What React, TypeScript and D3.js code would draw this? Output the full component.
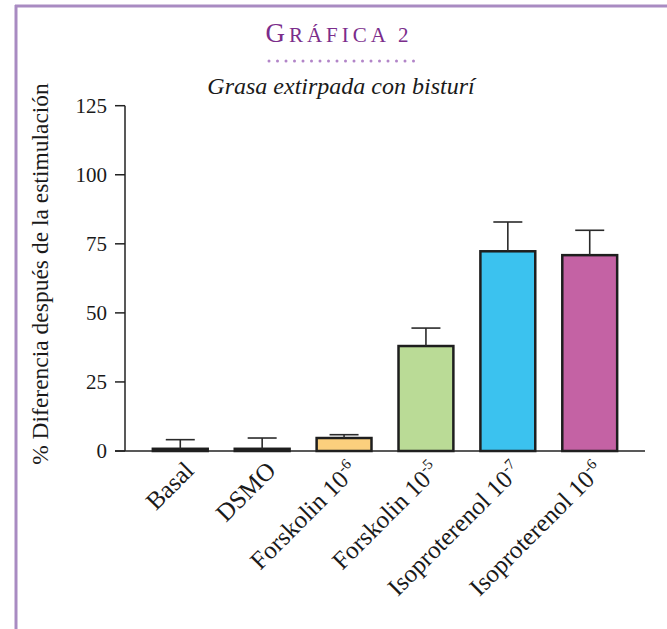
import { useEffect, useRef } from "react"
import * as d3 from "d3"

const categories = ["Basal", "DSMO", "Forskolin 10", "Forskolin 10", "Isoproterenol 10", "Isoproterenol 10"]
const exponents = ["", "", "-6", "-5", "-7", "-6"]
const means = [0.8, 0.8, 4.7, 38, 72.3, 70.9]
const errors = [3.3, 3.9, 1.2, 6.5, 10.6, 9]
const barColors = ["#1e1e1e", "#1e1e1e", "#fbcf7d", "#badb96", "#3bc2ef", "#c462a4"]
const yTicks = [0, 25, 50, 75, 100, 125]

const WIDTH = 667
const HEIGHT = 629
const SERIF = "'Liberation Serif', 'Times New Roman', serif"

export default function App() {
  const svgRef = useRef<SVGSVGElement>(null)

  useEffect(() => {
    if (!svgRef.current) return
    const svg = d3.select(svgRef.current)
    svg.selectAll("*").remove()

    // frame
    svg.append("line").attr("x1", 15).attr("x2", WIDTH).attr("y1", 6).attr("y2", 6)
      .attr("stroke", "#a98bc2").attr("stroke-width", 3)
    svg.append("line").attr("x1", 16).attr("x2", 16).attr("y1", 5).attr("y2", HEIGHT)
      .attr("stroke", "#a98bc2").attr("stroke-width", 3)

    // titles (small caps done by hand)
    const title = svg.append("text").attr("x", 339).attr("y", 42).attr("text-anchor", "middle")
      .attr("font-family", SERIF).attr("letter-spacing", 4).attr("fill", "#7b2d8b")
    title.append("tspan").attr("font-size", 27).text("G")
    title.append("tspan").attr("font-size", 21).text("RÁFICA 2")

    const dots = d3.range(18)
    svg.append("g").selectAll("circle").data(dots).join("circle")
      .attr("cx", (d) => 269 + d * 8.5).attr("cy", 61).attr("r", 1.5).attr("fill", "#b285c8")

    svg.append("text").attr("x", 341).attr("y", 94).attr("text-anchor", "middle")
      .attr("font-family", SERIF).attr("font-size", 24).attr("font-style", "italic")
      .attr("fill", "#1a1a1a").text("Grasa extirpada con bisturí")

    const x0 = 125
    const x1 = 645
    const x = d3.scaleBand<number>().domain(d3.range(categories.length))
      .range([x0, x1]).paddingInner(0.33).paddingOuter(0.34)
    const y = d3.scaleLinear().domain([0, 125]).range([451, 105.7])

    // y axis
    const g = svg.append("g")
    g.append("line").attr("x1", x0).attr("x2", x0).attr("y1", y(125)).attr("y2", y(0))
      .attr("stroke", "#222").attr("stroke-width", 1.5)
    g.selectAll(".tick").data(yTicks).join("line")
      .attr("x1", x0 - 10).attr("x2", x0).attr("y1", (d) => y(d)).attr("y2", (d) => y(d))
      .attr("stroke", "#222").attr("stroke-width", 1.5)
    g.selectAll(".tl").data(yTicks).join("text")
      .attr("x", x0 - 18).attr("y", (d) => y(d)).attr("dy", "0.35em").attr("text-anchor", "end")
      .attr("font-family", SERIF).attr("font-size", 21).attr("fill", "#1a1a1a")
      .text((d) => d)

    // y label
    svg.append("text").attr("transform", `translate(48,${274}) rotate(-90)`)
      .attr("text-anchor", "middle").attr("font-family", SERIF).attr("font-size", 23.5)
      .attr("fill", "#1a1a1a").text("% Diferencia después de la estimulación")

    // bars
    const idx = d3.range(categories.length)
    svg.append("g").selectAll("rect").data(idx).join("rect")
      .attr("x", (i) => x(i)!).attr("width", x.bandwidth())
      .attr("y", (i) => y(means[i])).attr("height", (i) => y(0) - y(means[i]))
      .attr("fill", (i) => barColors[i]).attr("stroke", "#1e1e1e").attr("stroke-width", 2.5)

    // error bars
    const eb = svg.append("g").attr("stroke", "#2a2a2a").attr("stroke-width", 1.6)
    idx.forEach((i) => {
      const cx = x(i)! + x.bandwidth() / 2
      eb.append("line").attr("x1", cx).attr("x2", cx)
        .attr("y1", y(means[i])).attr("y2", y(means[i] + errors[i]))
      eb.append("line").attr("x1", cx - 14.5).attr("x2", cx + 14.5)
        .attr("y1", y(means[i] + errors[i])).attr("y2", y(means[i] + errors[i]))
    })

    // x axis
    svg.append("line").attr("x1", x0 - 10).attr("x2", x1).attr("y1", y(0)).attr("y2", y(0))
      .attr("stroke", "#222").attr("stroke-width", 1.5)

    // x labels
    idx.forEach((i) => {
      const cx = x(i)! + x.bandwidth() / 2
      const t = svg.append("text")
        .attr("transform", `translate(${cx + 15},${472}) rotate(-45)`)
        .attr("text-anchor", "end").attr("font-family", SERIF).attr("font-size", 25)
        .attr("fill", "#1a1a1a")
      t.append("tspan").text(categories[i])
      if (exponents[i]) {
        t.append("tspan").attr("font-size", 15).attr("dy", -10).text(exponents[i])
      }
    })
  }, [])

  return (
    <div style={{ position: "absolute", left: 0, top: 0, background: "#fff" }}>
      <svg ref={svgRef} width={WIDTH} height={HEIGHT} style={{ display: "block" }} />
    </div>
  )
}
